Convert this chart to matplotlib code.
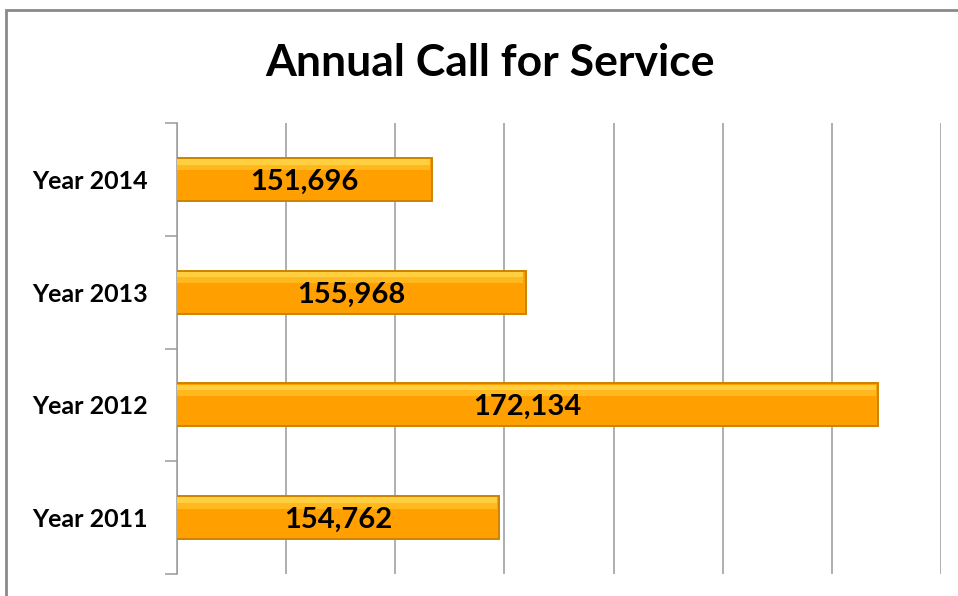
import numpy as np
import matplotlib.pyplot as plt
from matplotlib.patches import Rectangle

years = ['Year 2011', 'Year 2012', 'Year 2013', 'Year 2014']
calls = [154762, 172134, 155968, 151696]

plt.rcParams['font.family'] = ['Lato', 'DejaVu Sans']

fig = plt.figure(figsize=(9.58, 5.96), dpi=100)
ax = fig.add_axes([0.1848, 0.0369, 0.7975, 0.7567])

y = np.arange(len(years))
vals = np.array(calls)
# base bar, then lighter strips near the top for the bevel look
ax.barh(y, vals, height=0.38, left=0, color='#FFA000', edgecolor='#CC8400',
        linewidth=1.4, zorder=3)
ax.barh(y + 0.155, vals - 120, height=0.05, left=0, color='#FFCF40',
        linewidth=0, zorder=4)
ax.barh(y + 0.105, vals - 120, height=0.05, left=0, color='#FFB81E',
        linewidth=0, zorder=4)

for yi, v in zip(y, calls):
    ax.text(140000 + (v - 140000) / 2, yi - 0.02, f'{v:,}', ha='center', va='center',
            fontsize=21, fontweight='bold', color='black', zorder=5)

ax.set_xlim(140000, 175000)
ax.set_ylim(-0.5, len(years) - 0.5)
ax.set_xticks(np.arange(140000, 175001, 5000))
ax.set_xticklabels([])
ax.tick_params(axis='x', length=0)
ax.grid(axis='x', color='#9a9a9a', linewidth=1.1, zorder=0)

ax.set_yticks(y)
ax.set_yticklabels(years, fontsize=18, fontweight='bold')
ax.set_yticks(np.arange(-0.5, len(years), 1), minor=True)
ax.tick_params(axis='y', which='major', length=0, pad=21)
ax.tick_params(axis='y', which='minor', length=9, color='#9a9a9a', width=1.1)

for s in ['top', 'right', 'bottom']:
    ax.spines[s].set_visible(False)
ax.spines['left'].set_color('#9a9a9a')
ax.spines['left'].set_linewidth(1.1)

fig.text(0.512, 0.895, 'Annual Call for Service', ha='center', va='center',
         fontsize=32, fontweight='bold')

fig.patches.append(Rectangle((0.0063, -0.1), 1.2, 1.1 - 10 / 596, transform=fig.transFigure,
                             fill=False, edgecolor='#8a8a8a', linewidth=2))

fig.savefig('out.png', dpi=100)
